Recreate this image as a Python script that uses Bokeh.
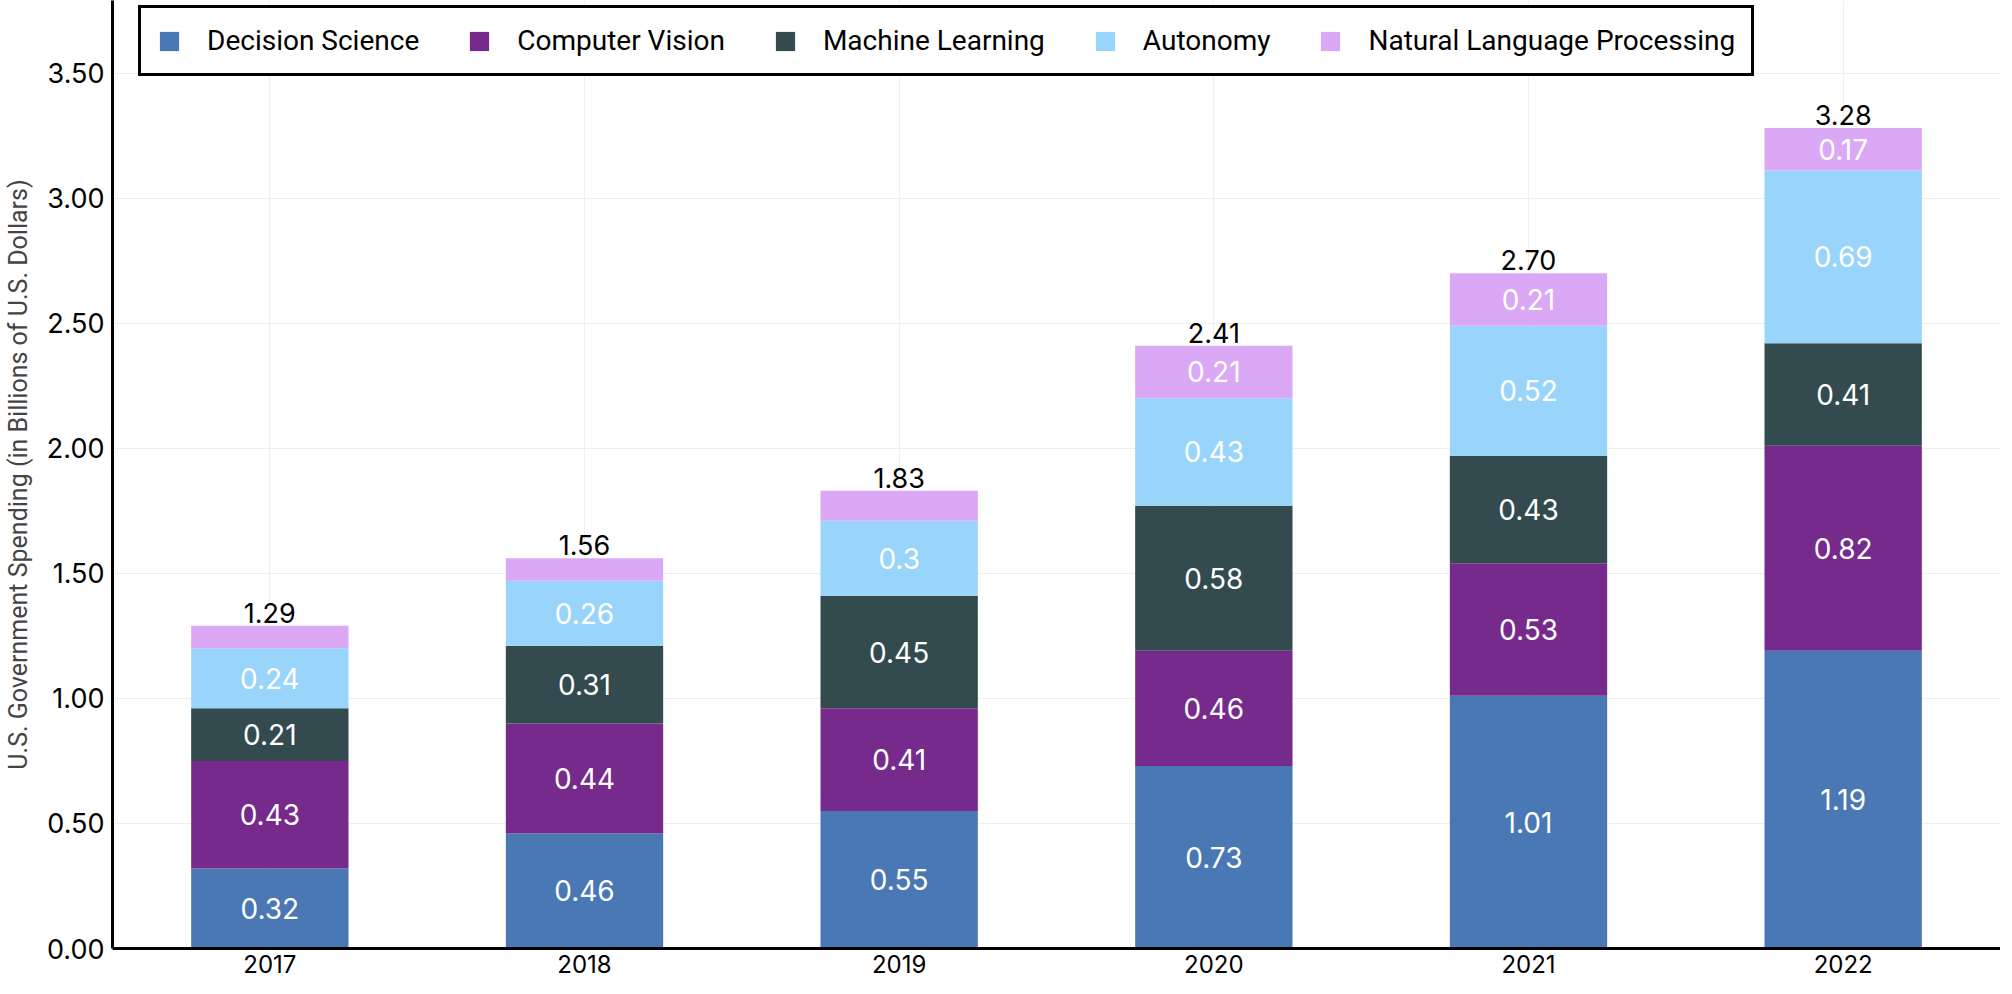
from bokeh.plotting import figure
from bokeh.models import ColumnDataSource, FixedTicker, NumeralTickFormatter
from bokeh.core.properties import value
from bokeh.embed import file_html
from bokeh.resources import INLINE

years = ["2017", "2018", "2019", "2020", "2021", "2022"]
decision_science = [0.32, 0.46, 0.55, 0.73, 1.01, 1.19]
computer_vision = [0.43, 0.44, 0.41, 0.46, 0.53, 0.82]
machine_learning = [0.21, 0.31, 0.45, 0.58, 0.43, 0.41]
autonomy = [0.24, 0.26, 0.30, 0.43, 0.52, 0.69]
nlp = [0.09, 0.09, 0.12, 0.21, 0.21, 0.17]
totals = [1.29, 1.56, 1.83, 2.41, 2.70, 3.28]

series_names = ["Decision Science", "Computer Vision", "Machine Learning",
                "Autonomy", "Natural Language Processing"]
series_values = [decision_science, computer_vision, machine_learning, autonomy, nlp]
colors = ["#4A78B5", "#762A8C", "#334A4F", "#99D5FA", "#DBA8F5"]
y_ticks = [0.0, 0.5, 1.0, 1.5, 2.0, 2.5, 3.0, 3.5]

keys = ["s%d" % i for i in range(len(series_names))]
data = {"year": years}
for k, v in zip(keys, series_values):
    data[k] = v
src = ColumnDataSource(data)

p = figure(x_range=years, y_range=(0, 3.79), width=2000, height=978,
           output_backend="svg", toolbar_location=None,
           min_border_left=0, min_border_right=0, min_border_top=0, min_border_bottom=30)

p.vbar_stack(keys, x="year", width=0.5, color=colors, line_color=None,
             source=src, legend_label=series_names)

# segment labels
lx, ly, lt = [], [], []
for i, y in enumerate(years):
    base = 0.0
    for vals in series_values:
        v = vals[i]
        if v >= 0.15:
            lx.append(y)
            ly.append(base + v / 2)
            lt.append(f"{v:g}")
        base += v
p.text(x="x", y="y", text="t", source=ColumnDataSource(dict(x=lx, y=ly, t=lt)),
       text_color="white", text_font=value("Inter"), text_font_size="28px",
       text_align="center", text_baseline="middle")

# totals
p.text(x="x", y="y", text="t",
       source=ColumnDataSource(dict(x=years, y=totals, t=[f"{t:.2f}" for t in totals])),
       text_color="black", text_font=value("Inter"), text_font_size="27px",
       text_font_style="normal", text_align="center", text_baseline="bottom", y_offset=-3)

p.outline_line_color = None
p.xgrid.grid_line_color = "#efefef"
p.ygrid.grid_line_color = "#efefef"
p.ygrid.ticker = FixedTicker(ticks=y_ticks)

p.yaxis.ticker = FixedTicker(ticks=y_ticks)
p.yaxis.formatter = NumeralTickFormatter(format="0.00")
p.yaxis.axis_label = "U.S. Government Spending (in Billions of U.S. Dollars)"
p.yaxis.axis_label_text_font = "Roboto"
p.yaxis.axis_label_text_font_size = "25px"
p.yaxis.axis_label_text_font_style = "normal"
p.yaxis.axis_label_standoff = 11
p.yaxis.major_label_text_font = "Inter"
p.yaxis.major_label_text_font_size = "27px"
p.yaxis.major_label_standoff = 8

for ax in (p.xaxis, p.yaxis):
    ax.axis_line_color = "black"
    ax.axis_line_width = 3
    ax.major_tick_line_color = None
    ax.minor_tick_line_color = None
    ax.major_tick_out = 0
    ax.major_tick_in = 0
    ax.minor_tick_out = 0
    ax.minor_tick_in = 0
    ax.major_label_text_color = "black"

p.xaxis.major_label_text_font = "Inter"
p.xaxis.major_label_text_font_size = "24px"
p.xaxis.major_label_standoff = 6

lg = p.legend[0]
lg.orientation = "horizontal"
lg.location = (26, 872)
lg.margin = 0
lg.padding = 16
lg.spacing = 48
lg.label_standoff = 26
lg.glyph_width = 24
lg.glyph_height = 24
lg.label_height = 30
lg.label_text_font = "Roboto"
lg.label_text_font_size = "28px"
lg.label_text_color = "black"
lg.border_line_color = "black"
lg.border_line_alpha = 1.0
lg.border_line_width = 3
lg.background_fill_color = "white"
lg.background_fill_alpha = 1.0

open("out.html", "w").write(file_html(p, INLINE))
